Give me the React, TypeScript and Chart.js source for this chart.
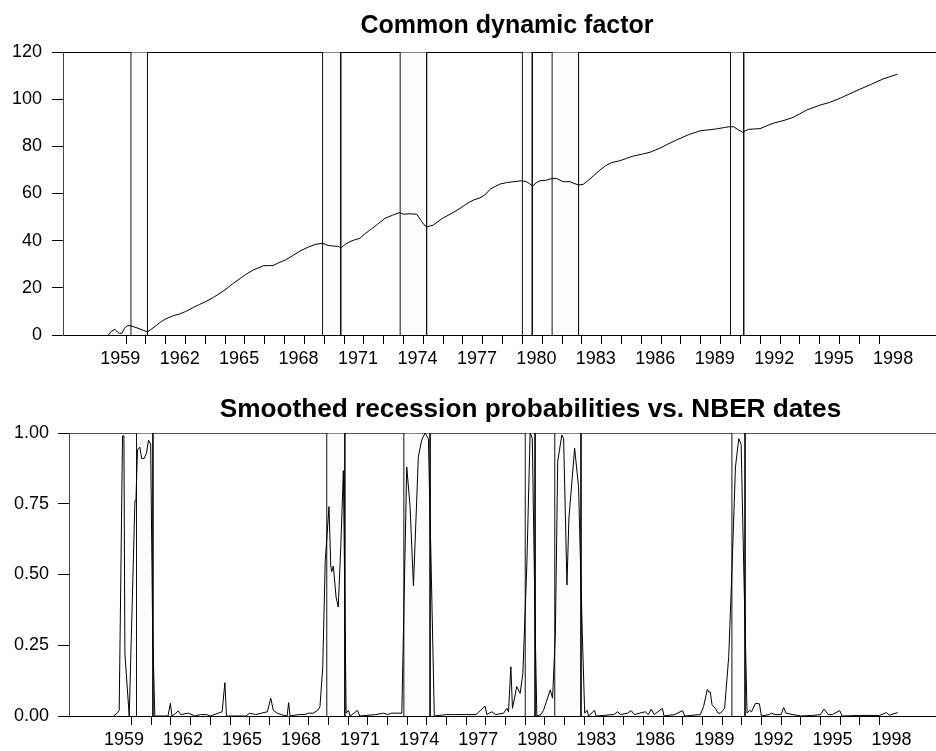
import React, { useEffect, useRef } from 'react';
import { Chart, registerables } from 'chart.js';

Chart.register(...registerables);

// ---------- data ----------
const factorDates = [
  1959.11, 1959.25, 1959.44, 1959.58, 1959.66, 1959.8, 1959.92, 1960.05, 1960.2, 1960.45,
  1960.7, 1960.9, 1961.08, 1961.3, 1961.55, 1961.8, 1962.02, 1962.39, 1962.7, 1962.99,
  1963.4, 1963.7, 1964.0, 1964.4, 1964.74, 1965.1, 1965.41, 1965.7, 1966.0, 1966.42,
  1966.7, 1966.93, 1967.2, 1967.43, 1967.7, 1968.04, 1968.4, 1968.78, 1969.2, 1969.55,
  1969.9, 1970.2, 1970.46, 1970.7, 1970.86, 1971.05, 1971.3, 1971.55, 1971.8, 1972.05,
  1972.31, 1972.7, 1973.07, 1973.45, 1973.79, 1974.0, 1974.3, 1974.67, 1974.92, 1975.1,
  1975.2, 1975.5, 1975.75, 1976.01, 1976.4, 1976.85, 1977.2, 1977.52, 1977.85, 1978.11,
  1978.37, 1978.6, 1978.87, 1979.2, 1979.54, 1979.98, 1980.21, 1980.4, 1980.52, 1980.7,
  1980.89, 1981.2, 1981.46, 1981.73, 1981.9, 1982.06, 1982.4, 1982.6, 1982.84, 1983.07,
  1983.3, 1983.57, 1983.92, 1984.2, 1984.5, 1984.92, 1985.25, 1985.6, 1986.0, 1986.44,
  1986.94, 1987.35, 1987.78, 1988.4, 1988.97, 1989.4, 1989.81, 1990.2, 1990.45, 1990.65,
  1990.9, 1991.11, 1991.4, 1991.99, 1992.3, 1992.66, 1993.2, 1993.67, 1994.0, 1994.35,
  1995.02, 1995.5, 1996.03, 1996.5, 1997.03, 1997.6, 1998.21, 1998.5, 1998.92,
];
const factorValues = [
  0.0, 1.5, 2.4, 1.2, 0.7, 0.8, 2.8, 3.9, 4.0, 3.3,
  2.6, 1.9, 1.3, 2.6, 4.2, 5.8, 6.9, 8.2, 8.9, 9.9,
  11.7, 12.9, 14.1, 15.9, 17.7, 19.8, 21.9, 23.6, 25.4, 27.6,
  28.5, 29.4, 29.4, 29.5, 30.6, 31.8, 33.6, 35.6, 37.3, 38.4,
  38.9, 38.0, 37.7, 37.6, 37.0, 38.4, 39.6, 40.4, 41.0, 42.9,
  44.5, 47.0, 49.5, 50.8, 51.9, 51.2, 51.4, 51.2, 48.1, 46.2,
  45.9, 46.6, 48.2, 49.7, 51.4, 53.7, 55.7, 57.2, 58.1, 59.4,
  61.8, 62.9, 64.0, 64.6, 65.0, 65.4, 65.0, 63.9, 63.2, 64.6,
  65.4, 65.6, 66.3, 66.4, 65.6, 65.0, 65.0, 64.3, 63.6, 63.9,
  65.4, 67.4, 70.0, 71.8, 73.1, 73.9, 74.9, 75.9, 76.6, 77.5,
  79.2, 81.0, 82.7, 85.0, 86.6, 87.0, 87.4, 88.0, 88.3, 88.3,
  87.0, 86.0, 87.2, 87.5, 88.6, 89.8, 91.0, 92.3, 93.8, 95.4,
  97.5, 98.6, 100.4, 102.2, 104.2, 106.3, 108.6, 109.4, 110.6,
];

const probDates = [
  1959.08, 1959.27, 1959.37, 1959.54, 1959.61, 1959.66, 1959.88, 1960.17, 1960.22, 1960.3,
  1960.42, 1960.51, 1960.64, 1960.76, 1960.86, 1960.97, 1961.07, 1961.18, 1961.85, 1961.97,
  1962.05, 1962.25, 1962.37, 1962.5, 1962.9, 1963.2, 1963.5, 1963.8, 1964.0, 1964.6,
  1964.74, 1964.82, 1965.8, 1966.0, 1966.3, 1966.6, 1966.9, 1967.07, 1967.2, 1967.4,
  1967.6, 1967.9, 1967.98, 1968.05, 1968.5, 1968.8, 1969.0, 1969.23, 1969.45, 1969.57,
  1969.71, 1969.84, 1970.03, 1970.12, 1970.17, 1970.25, 1970.39, 1970.5, 1970.63, 1970.76,
  1970.9, 1971.02, 1971.1, 1971.3, 1971.47, 1971.6, 1972.4, 1972.8, 1973.0, 1973.2,
  1973.73, 1973.81, 1973.98, 1974.15, 1974.32, 1974.57, 1974.74, 1974.91, 1975.08, 1975.22,
  1975.38, 1976.0, 1976.4, 1977.0, 1977.5, 1977.96, 1978.05, 1978.3, 1978.5, 1978.9,
  1979.07, 1979.15, 1979.27, 1979.35, 1979.57, 1979.74, 1979.88, 1980.08, 1980.25, 1980.36,
  1980.51, 1980.59, 1980.8, 1980.93, 1981.07, 1981.27, 1981.39, 1981.53, 1981.65, 1981.86,
  1981.95, 1982.12, 1982.22, 1982.51, 1982.71, 1982.9, 1983.02, 1983.14, 1983.22, 1983.52,
  1983.6, 1984.5, 1984.7, 1984.85, 1985.2, 1985.38, 1985.55, 1985.8, 1986.1, 1986.25,
  1986.4, 1986.55, 1986.97, 1987.05, 1987.6, 1987.99, 1988.1, 1988.9, 1989.06, 1989.25,
  1989.32, 1989.4, 1989.49, 1989.66, 1989.8, 1989.92, 1990.13, 1990.34, 1990.51, 1990.68,
  1990.85, 1990.97, 1991.1, 1991.27, 1991.4, 1991.5, 1991.7, 1991.9, 1992.0, 1992.4,
  1992.5, 1992.7, 1993.0, 1993.13, 1993.25, 1993.6, 1994.0, 1994.6, 1995.0, 1995.18,
  1995.4, 1995.6, 1995.98, 1996.1, 1997.0, 1998.0, 1998.35, 1998.5, 1998.92,
];
const probValues = [
  0, 0.01, 0.02, 0.99, 0.99, 0.22, 0.0, 0.76, 0.76, 0.94,
  0.95, 0.91, 0.91, 0.93, 0.975, 0.96, 0.3, 0, 0, 0.045,
  0, 0.01, 0.018, 0.005, 0.01, 0, 0.005, 0.005, 0, 0.015,
  0.118, 0, 0, 0.01, 0.005, 0.01, 0.015, 0.063, 0.02, 0.01,
  0.005, 0, 0.047, 0, 0.005, 0.005, 0.01, 0.01, 0.02, 0.033,
  0.17, 0.55, 0.74, 0.53, 0.51, 0.53, 0.42, 0.385, 0.6, 0.867,
  0.01, 0.02, 0, 0.01, 0.02, 0, 0.005, 0.01, 0.005, 0.01,
  0.01, 0.29, 0.88, 0.74, 0.46, 0.916, 0.975, 1.0, 0.98, 0.53,
  0, 0.005, 0.005, 0.005, 0.005, 0.035, 0.005, 0.015, 0.005, 0.01,
  0.027, 0.015, 0.174, 0.027, 0.104, 0.08, 0.15, 0.53, 1.0, 0.98,
  0.29, 0, 0.005, 0.02, 0.05, 0.092, 0.063, 0.29, 0.9, 0.993,
  0.98, 0.463, 0.7, 0.946, 0.81, 0.29, 0.01, 0.02, 0, 0.02,
  0, 0.005, 0.015, 0.005, 0.01, 0.019, 0.005, 0.01, 0.015, 0.005,
  0.024, 0.005, 0.027, 0, 0.005, 0.019, 0, 0.005, 0.033, 0.094,
  0.085, 0.085, 0.04, 0.027, 0.01, 0.01, 0.027, 0.21, 0.53, 0.88,
  0.98, 0.96, 0.53, 0.01, 0.02, 0.015, 0.045, 0.043, 0, 0.005,
  0.01, 0.005, 0.005, 0.03, 0.01, 0.005, 0, 0.002, 0.005, 0.024,
  0.005, 0.005, 0.019, 0, 0.002, 0.002, 0.012, 0.003, 0.012,
];

// NBER recession peaks / troughs (decimal years, monthly)
const recessionStarts = [1960.25, 1969.917, 1973.833, 1980.0, 1981.5, 1990.5];
const recessionEnds = [1961.083, 1970.833, 1975.167, 1980.5, 1982.833, 1991.167];

const xLabelYears = [1959, 1962, 1965, 1968, 1971, 1974, 1977, 1980, 1983, 1986, 1989, 1992, 1995, 1998];
const xFirstTickYear = 1959;
const xLastTickYear = 1998;
const topYTicks = [0, 20, 40, 60, 80, 100, 120];
const bottomYTicks = [0, 0.25, 0.5, 0.75, 1.0];

const X_MIN = 1956.82;
const X_MAX = 2000.87;
const FONT = '"Liberation Sans", Arial, Helvetica, sans-serif';

const panelTitle = {
  id: 'panelTitle',
  afterDraw(chart: any, _args: any, opts: any) {
    const ctx = chart.ctx;
    ctx.save();
    ctx.font = `bold ${opts.size}px ${FONT}`;
    ctx.fillStyle = '#000';
    ctx.textAlign = 'center';
    ctx.textBaseline = 'alphabetic';
    ctx.fillText(opts.text, opts.x, opts.y);
    ctx.restore();
  },
};

type PanelProps = {
  title: string;
  titleX: number;
  titleY: number;
  titleSize: number;
  dates: number[];
  values: number[];
  yMax: number;
  yTicks: number[];
  yDecimals: number;
  yAxisWidth: number;
  yLabelPad: number;
  xAxisHeight: number;
  padTop: number;
  labelOffset: number;
  height: number;
  top: number;
  topBorderColor: string;
};

function Panel(p: PanelProps) {
  const ref = useRef<HTMLCanvasElement | null>(null);
  useEffect(() => {
    if (!ref.current) return;
    const series = p.dates.map((x, i) => ({ x, y: p.values[i] }));
    const bands = recessionStarts.map((s, i) => ({
      data: [
        { x: s, y: 0 },
        { x: s, y: p.yMax },
        { x: recessionEnds[i], y: p.yMax },
        { x: recessionEnds[i], y: 0 },
      ],
      borderColor: '#111',
      borderWidth: 1,
      backgroundColor: '#fcfcfc',
      fill: 'origin',
      pointRadius: 0,
      tension: 0,
      order: 1,
    }));
    const chart = new Chart(ref.current, {
      type: 'line',
      data: {
        datasets: [
          {
            data: series,
            borderColor: '#000',
            borderWidth: 1,
            pointRadius: 0,
            fill: false,
            tension: 0,
            order: 0,
          } as any,
          ...(bands as any[]),
        ],
      },
      options: {
        responsive: false,
        animation: false,
        devicePixelRatio: 1,
        layout: { padding: { top: p.padTop, left: 0, right: 0, bottom: 0 } },
        plugins: {
          legend: { display: false },
          tooltip: { enabled: false },
          title: { display: false },
          panelTitle: { text: p.title, x: p.titleX, y: p.titleY, size: p.titleSize },
        } as any,
        scales: {
          x: {
            type: 'linear',
            min: X_MIN,
            max: X_MAX,
            afterBuildTicks: (scale: any) => {
              const t = [];
              for (let y = xFirstTickYear; y <= xLastTickYear; y++) t.push({ value: y });
              scale.ticks = t;
            },
            afterFit: (scale: any) => {
              scale.height = p.xAxisHeight;
            },
            grid: {
              drawOnChartArea: false,
              drawTicks: true,
              tickLength: 9,
              color: '#000',
              tickColor: (ctx: any) =>
                ctx.tick && ctx.tick.value === xFirstTickYear ? 'rgba(0,0,0,0)' : '#000',
            },
            border: { display: true, color: '#000', width: 1 },
            ticks: {
              autoSkip: false,
              maxRotation: 0,
              minRotation: 0,
              labelOffset: p.labelOffset,
              padding: 4,
              color: '#000',
              font: { family: FONT, size: 18 },
              callback: (v: any) => (xLabelYears.includes(v) ? String(v) : ''),
            },
          },
          y: {
            type: 'linear',
            min: 0,
            max: p.yMax,
            afterBuildTicks: (scale: any) => {
              scale.ticks = p.yTicks.map((v) => ({ value: v }));
            },
            afterFit: (scale: any) => {
              scale.width = p.yAxisWidth;
            },
            grid: {
              drawOnChartArea: true,
              drawTicks: true,
              tickLength: 11,
              color: (ctx: any) =>
                ctx.tick && ctx.tick.value === p.yMax ? p.topBorderColor : 'rgba(0,0,0,0)',
              tickColor: '#000',
            },
            border: { display: true, color: '#444', width: 1 },
            ticks: {
              padding: p.yLabelPad,
              color: '#000',
              font: { family: FONT, size: 18 },
              callback: (v: any) => Number(v).toFixed(p.yDecimals),
            },
          },
        },
      } as any,
      plugins: [panelTitle as any],
    });
    return () => chart.destroy();
  }, []);
  return (
    <canvas
      ref={ref}
      width={936}
      height={p.height}
      style={{ position: 'absolute', left: 0, top: p.top, width: 936, height: p.height, display: 'block' }}
    />
  );
}

export default function App() {
  return (
    <div style={{ position: 'absolute', left: 0, top: 0, width: 936, height: 751, background: '#fff', overflow: 'hidden' }}>
      <Panel
        title="Common dynamic factor"
        titleX={507}
        titleY={33}
        titleSize={25}
        dates={factorDates}
        values={factorValues}
        yMax={120}
        yTicks={topYTicks}
        yDecimals={0}
        yAxisWidth={63}
        yLabelPad={10}
        xAxisHeight={40}
        padTop={52}
        labelOffset={14}
        height={375}
        top={0}
        topBorderColor="#000"
      />
      <Panel
        title="Smoothed recession probabilities vs. NBER dates"
        titleX={530.5}
        titleY={41.5}
        titleSize={26.2}
        dates={probDates}
        values={probValues}
        yMax={1}
        yTicks={bottomYTicks}
        yDecimals={2}
        yAxisWidth={69}
        yLabelPad={9}
        xAxisHeight={35}
        padTop={58}
        labelOffset={12}
        height={376}
        top={375}
        topBorderColor="#555"
      />
    </div>
  );
}
